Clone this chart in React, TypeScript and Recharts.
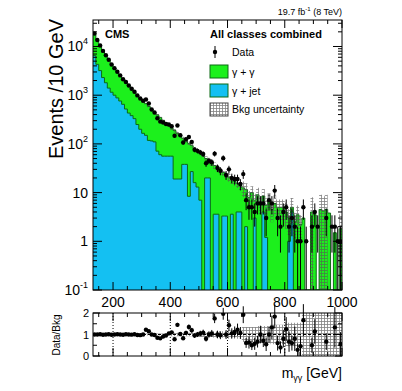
import React from 'react'
import {
  Area,
  ComposedChart,
  ErrorBar,
  ReferenceLine,
  Scatter,
  XAxis,
  YAxis,
} from 'recharts'

// low edge of each 10 GeV bin
const binLow = [
  130, 140, 150, 160, 170, 180, 190, 200, 210, 220,
  230, 240, 250, 260, 270, 280, 290, 300, 310, 320,
  330, 340, 350, 360, 370, 380, 390, 400, 410, 420,
  430, 440, 450, 460, 470, 480, 490, 500, 510, 520,
  530, 540, 550, 560, 570, 580, 590, 600, 610, 620,
  630, 640, 650, 660, 670, 680, 690, 700, 710, 720,
  730, 740, 750, 760, 770, 780, 790, 800, 810, 820,
  830, 840, 850, 860, 870, 880, 890, 900, 910, 920,
  930, 940, 950, 960, 970, 980, 990,
]

// total background (gamma+gamma stacked on gamma+jet)
const bkgTotal = [
  18500, 13600, 10400, 8200, 6600, 5300, 4300, 3600, 3000, 2550,
  2150, 1850, 1580, 1370, 1170, 1010, 880, 770, 670, 585,
  510, 450, 395, 350, 305, 270, 238, 210, 188, 165,
  147, 130, 116, 103, 92, 80, 72, 64, 57, 50,
  45, 40, 36, 32, 29, 26, 23, 21, 19, 17,
  15.5, 14, 12.5, 11.5, 8, 10, 7, 9, 6, 8.5,
  5.5, 7, 4.5, 6, 5, 5, 5, 4, 3, 5,
  2.5, 3.5, 2.2, 3, 0, 0, 4, 3.5, 0, 4.5,
  4.2, 4.5, 3.8, 0, 1.5, 0, 1.8,
]

const gammaJet = [
  6500, 4300, 3200, 2300, 1800, 1400, 1150, 1000, 880, 760,
  650, 520, 430, 380, 330, 250, 200, 165, 150, 118,
  115, 110, 71, 60, 56, 56, 56, 56, 19, 19,
  19, 38, 38, 8.4, 27, 16, 13, 7, 0, 20,
  20, 0, 3.6, 3.6, 0, 3.3, 3.3, 0, 3.6, 0,
  4, 4, 0, 2, 0, 0, 3, 0, 0, 4,
  1.2, 0, 0, 0, 0, 0, 0, 0, 1, 4,
  0, 0, 0, 0, 0, 0, 0, 0, 0, 0,
  0, 0, 0, 0, 0, 0, 0,
]

const dataCounts = [
  18500, 13600, 10500, 8120, 6610, 5350, 4260, 3590, 3030, 2550,
  2130, 1870, 1580, 1360, 1180, 990, 854, 770, 817, 673,
  510, 441, 336, 287, 275, 257, 250, 231, 147, 239,
  150, 107, 125, 139, 110, 76, 72, 67, 62, 40,
  45, 42, 63, 32, 28, 51, 23, 30, 20, 19,
  19, 15, 24, 7, 5, 5, 4, 6, 6, 6,
  3, 7, 6, 11, 3, 2, 4, 5, 2, 3,
  2, 1, 1, 5, 1, 0, 2, 4, 2, 0,
  0, 3, 0, 2, 2, 1, 1,
]

// relative background uncertainty
const bkgUnc = [
  0.03, 0.03, 0.03, 0.03, 0.03, 0.03, 0.03, 0.03, 0.03, 0.03,
  0.03, 0.03, 0.03, 0.03, 0.03, 0.03, 0.03, 0.05, 0.05, 0.05,
  0.05, 0.05, 0.05, 0.05, 0.05, 0.05, 0.05, 0.08, 0.08, 0.08,
  0.08, 0.08, 0.08, 0.08, 0.08, 0.08, 0.08, 0.12, 0.12, 0.12,
  0.12, 0.12, 0.15, 0.15, 0.15, 0.15, 0.15, 0.2, 0.2, 0.2,
  0.2, 0.2, 0.35, 0.35, 0.35, 0.35, 0.35, 0.4, 0.4, 0.4,
  0.4, 0.4, 0.45, 0.45, 0.45, 0.45, 0.45, 0.55, 0.55, 0.55,
  0.55, 0.55, 0.55, 1, 1, 1, 1, 1, 1, 1,
  1, 1, 1, 1, 1, 1, 1,
]

const xTicks = [150, 200, 250, 300, 350, 400, 450, 500, 550, 600, 650, 700, 750, 800, 850, 900, 950, 1000]
const yMajorTicks = [0.1, 1, 10, 100, 1000, 10000]
const yTickText = [['10', '-1'], ['1', ''], ['10', ''], ['10', '2'], ['10', '3'], ['10', '4']]
const ratioTicks = [0, 0.5, 1, 1.5, 2]
const ratioGridX = [200, 400, 600, 800]

const X_MAX = 1000
const FLOOR = 0.1
const L = 93
const R = 342
const MAIN_TOP = 20
const MAIN_BOTTOM = 290
const RAT_TOP = 13
const RAT_BOTTOM = 56

const GREEN = '#1cf01c'
const BLUE = '#14c0f2'
const LINE = '#0d6a14'
const FONT = '"Liberation Sans", Arial, Helvetica, sans-serif'

const clip = (v: number) => (v > FLOOR ? v : FLOOR)

const histRows = binLow.map((lo, i) => {
  const t = bkgTotal[i]
  const u = bkgUnc[i]
  return {
    x: lo,
    total: clip(t),
    gjet: clip(gammaJet[i]),
    band: t > 0 ? [clip(t * (1 - u)), t * (1 + u)] : null,
    rband: [Math.max(0, 1 - u), Math.min(2, 1 + u)],
  }
})
histRows.push({ ...histRows[histRows.length - 1], x: X_MAX })

const dataPts = binLow
  .map((lo, i) => {
    const n = dataCounts[i]
    const e = Math.sqrt(n)
    return { x: lo + 5, y: n, err: [Math.min(e, n - FLOOR), e] }
  })
  .filter((p) => p.y > 0)

const ratioPts = binLow
  .map((lo, i) => {
    const n = dataCounts[i]
    const t = bkgTotal[i]
    return { x: lo + 5, y: t > 0 ? n / t : 0, err: t > 0 ? Math.sqrt(n) / t : 0, ok: n > 0 && t > 0 }
  })
  .filter((p) => p.ok)

const yMinorTicks: number[] = []
for (let k = -1; k <= 4; k++) {
  for (let m = 2; m <= 9; m++) {
    const v = m * Math.pow(10, k)
    if (v < 35000) yMinorTicks.push(v)
  }
}
const yAllTicks = [...yMajorTicks, ...yMinorTicks].sort((a, b) => a - b)

function makeXTick(top: number, bottom: number, labels: boolean) {
  return (p: any) => {
    const v = p.payload.value
    const major = v % 200 === 0
    const len = major ? 8 : 4
    return (
      <g>
        <line x1={p.x} x2={p.x} y1={bottom} y2={bottom - len} stroke="#000" />
        <line x1={p.x} x2={p.x} y1={top} y2={top + len} stroke="#000" />
        {labels && major && (
          <text x={p.x} y={bottom + 17} textAnchor="middle" fontSize={14} fontFamily={FONT} fill="#000">
            {v}
          </text>
        )}
      </g>
    )
  }
}

function MainYTick(p: any) {
  const v = p.payload.value
  const idx = yMajorTicks.indexOf(v)
  const len = idx >= 0 ? 9 : 4
  return (
    <g>
      <line x1={L} x2={L + len} y1={p.y} y2={p.y} stroke="#000" />
      <line x1={R} x2={R - len} y1={p.y} y2={p.y} stroke="#000" />
      {idx >= 0 && (
        <text x={L - 5} y={p.y + 5} textAnchor="end" fontSize={14} fontFamily={FONT} fill="#000">
          {yTickText[idx][0]}
          {yTickText[idx][1] && (
            <tspan dy={-7} fontSize={9}>
              {yTickText[idx][1]}
            </tspan>
          )}
        </text>
      )}
    </g>
  )
}

function RatioYTick(p: any) {
  const v = p.payload.value
  const major = Number.isInteger(v)
  const len = major ? 7 : 4
  return (
    <g>
      <line x1={L} x2={L + len} y1={p.y} y2={p.y} stroke="#000" />
      <line x1={R} x2={R - len} y1={p.y} y2={p.y} stroke="#000" />
      {major && (
        <text x={L - 4} y={p.y + 4} textAnchor="end" fontSize={11} fontFamily={FONT} fill="#000">
          {v}
        </text>
      )}
    </g>
  )
}

const Dot = (p: any) => <circle cx={p.cx} cy={p.cy} r={2.2} fill="#000" />

function Hatch({ id }: { id: string }) {
  return (
    <defs>
      <pattern id={id} width={3} height={3} patternUnits="userSpaceOnUse">
        <path d="M0 0.5 H3 M0.5 0 V3" stroke="#555" strokeWidth={0.8} opacity={0.75} />
      </pattern>
    </defs>
  )
}

export default function App() {
  return (
    <div style={{ position: 'absolute', left: 0, top: 0, width: 402, height: 391, background: '#fff', fontFamily: FONT }}>
      <div style={{ position: 'absolute', left: 0, top: 0 }}>
        <ComposedChart width={402} height={316} data={histRows} margin={{ top: MAIN_TOP, right: 402 - R, bottom: 1, left: 53 }}>
          <Hatch id="hatchMain" />
          <XAxis
            type="number"
            dataKey="x"
            domain={[130, X_MAX]}
            allowDataOverflow
            ticks={xTicks}
            interval={0}
            height={25}
            axisLine={false}
            tickLine={false}
            tick={makeXTick(MAIN_TOP, MAIN_BOTTOM, true)}
          />
          <YAxis
            scale="log"
            domain={[FLOOR, 35000]}
            allowDataOverflow
            ticks={yAllTicks}
            interval={0}
            width={40}
            axisLine={false}
            tickLine={false}
            tick={MainYTick}
          />
          <Area type="stepAfter" dataKey="total" baseValue={FLOOR} fill={GREEN} fillOpacity={1} stroke={LINE} strokeWidth={1} isAnimationActive={false} />
          <Area type="stepAfter" dataKey="gjet" baseValue={FLOOR} fill={BLUE} fillOpacity={1} stroke={LINE} strokeWidth={1} isAnimationActive={false} />
          <Area type="stepAfter" dataKey="band" fill="url(#hatchMain)" fillOpacity={1} stroke="none" isAnimationActive={false} />
          <Scatter data={dataPts} dataKey="y" shape={Dot} isAnimationActive={false}>
            <ErrorBar dataKey="err" direction="y" width={0} stroke="#000" strokeWidth={1} isAnimationActive={false} />
          </Scatter>
        </ComposedChart>
      </div>
      <div style={{ position: 'absolute', left: 0, top: 300 }}>
        <ComposedChart width={402} height={70} data={histRows} margin={{ top: RAT_TOP, right: 402 - R, bottom: 0, left: 53 }}>
          <Hatch id="hatchRatio" />
          <XAxis
            type="number"
            dataKey="x"
            domain={[130, X_MAX]}
            allowDataOverflow
            ticks={xTicks}
            interval={0}
            height={14}
            axisLine={false}
            tickLine={false}
            tick={makeXTick(RAT_TOP, RAT_BOTTOM, false)}
          />
          <YAxis
            type="number"
            domain={[0, 2]}
            allowDataOverflow
            ticks={ratioTicks}
            interval={0}
            width={40}
            axisLine={false}
            tickLine={false}
            tick={RatioYTick}
          />
          <Area type="stepAfter" dataKey="rband" fill="url(#hatchRatio)" fillOpacity={1} stroke="none" isAnimationActive={false} />
          {ratioGridX.map((g) => (
            <ReferenceLine key={g} x={g} stroke="#000" strokeDasharray="1 2" />
          ))}
          <ReferenceLine y={1} stroke="#000" strokeDasharray="3 2" />
          <Scatter data={ratioPts} dataKey="y" shape={Dot} isAnimationActive={false}>
            <ErrorBar dataKey="err" direction="y" width={0} stroke="#000" strokeWidth={1} isAnimationActive={false} />
          </Scatter>
        </ComposedChart>
      </div>
      <svg width={402} height={391} style={{ position: 'absolute', left: 0, top: 0, pointerEvents: 'none' }} fontFamily={FONT}>
        <defs>
          <pattern id="hatchLeg" width={3} height={3} patternUnits="userSpaceOnUse">
            <path d="M0 0.5 H3 M0.5 0 V3" stroke="#555" strokeWidth={0.8} opacity={0.75} />
          </pattern>
        </defs>
        <rect x={L} y={MAIN_TOP} width={R - L} height={MAIN_BOTTOM - MAIN_TOP} fill="none" stroke="#000" />
        <rect x={L} y={300 + RAT_TOP} width={R - L} height={RAT_BOTTOM - RAT_TOP} fill="none" stroke="#000" />
        <text x={R} y={15} textAnchor="end" fontSize={9}>
          19.7 fb<tspan dy={-4} fontSize={6}>-1</tspan>
          <tspan dy={4}> (8 TeV)</tspan>
        </text>
        <text x={105} y={38} fontSize={11} fontWeight="bold">CMS</text>
        <text x={210} y={38} fontSize={11} fontWeight="bold">All classes combined</text>
        <line x1={215} x2={215} y1={46} y2={58} stroke="#000" />
        <circle cx={215} cy={52} r={2.2} fill="#000" />
        <text x={232} y={56} fontSize={10.5}>Data</text>
        <rect x={210} y={65} width={18} height={13} fill={GREEN} stroke={LINE} />
        <text x={232} y={76} fontSize={10.5}>γ + γ</text>
        <rect x={210} y={84} width={18} height={13} fill={BLUE} stroke={LINE} />
        <text x={232} y={95} fontSize={10.5}>γ + jet</text>
        <rect x={210} y={103} width={18} height={13} fill="url(#hatchLeg)" stroke="#444" />
        <text x={232} y={113} fontSize={10.5}>Bkg uncertainty</text>
        <text transform="rotate(-90)" x={-19} y={63} textAnchor="end" fontSize={20}>Events /10 GeV</text>
        <text transform="rotate(-90)" x={-335} y={60} textAnchor="middle" fontSize={10}>Data/Bkg</text>
        <text x={R} y={378} textAnchor="end" fontSize={14}>
          m<tspan dy={3} fontSize={9}>γγ</tspan>
          <tspan dy={-3}> [GeV]</tspan>
        </text>
      </svg>
    </div>
  )
}
